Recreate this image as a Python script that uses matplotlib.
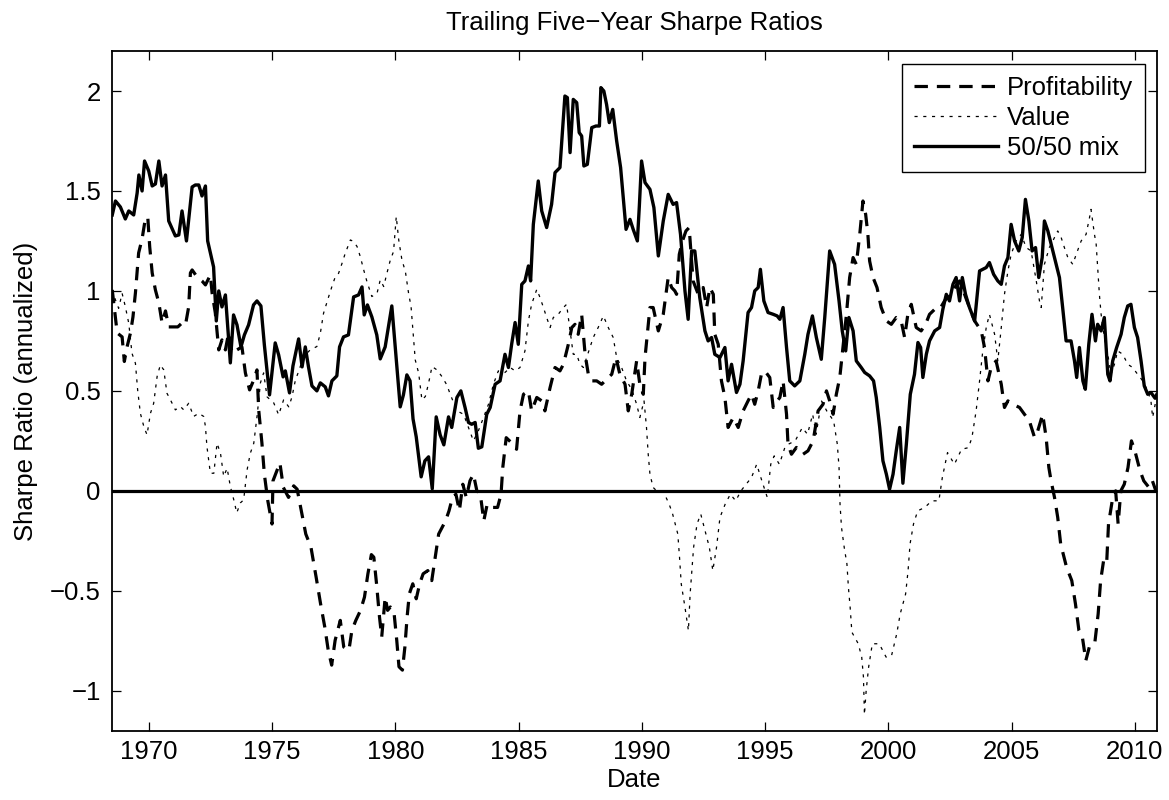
import matplotlib
matplotlib.use("Agg")
import matplotlib.pyplot as plt

# ---------- data (decimal years, annualized Sharpe ratios) ----------
prof_dates = [
    1968.52, 1968.72, 1968.92, 1969.01, 1969.12, 1969.26, 1969.36, 1969.46, 1969.59, 1969.73,
    1969.86, 1969.96, 1970.04, 1970.14, 1970.27, 1970.41, 1970.54, 1970.68, 1970.81, 1971.01,
    1971.18, 1971.35, 1971.49, 1971.62, 1971.69, 1971.76, 1971.96, 1972.16, 1972.30, 1972.50,
    1972.57, 1972.70, 1972.84, 1972.97, 1973.11, 1973.24, 1973.38, 1973.58, 1973.78, 1973.92,
    1974.09, 1974.26, 1974.39, 1974.46, 1974.59, 1974.69, 1974.83, 1975.00, 1975.04, 1975.32,
    1975.46, 1975.67, 1975.88, 1976.02, 1976.19, 1976.37, 1976.58, 1976.79, 1976.97, 1977.14,
    1977.28, 1977.42, 1977.56, 1977.77, 1977.91, 1978.12, 1978.24, 1978.40, 1978.59, 1978.75,
    1978.89, 1979.03, 1979.13, 1979.24, 1979.36, 1979.45, 1979.59, 1979.69, 1979.80, 1979.94,
    1980.06, 1980.15, 1980.29, 1980.39, 1980.48, 1980.57, 1980.71, 1980.85, 1980.99, 1981.13,
    1981.32, 1981.48, 1981.62, 1981.76, 1981.90, 1982.04, 1982.18, 1982.32, 1982.46, 1982.60,
    1982.74, 1982.88, 1983.03, 1983.17, 1983.31, 1983.45, 1983.59, 1983.73, 1983.94, 1984.15,
    1984.29, 1984.36, 1984.50, 1984.71, 1984.92, 1985.06, 1985.20, 1985.40, 1985.53, 1985.74,
    1985.94, 1986.07, 1986.28, 1986.48, 1986.68, 1986.82, 1987.02, 1987.16, 1987.29, 1987.42,
    1987.56, 1987.70, 1987.83, 1987.97, 1988.17, 1988.37, 1988.57, 1988.78, 1988.95, 1989.11,
    1989.32, 1989.45, 1989.59, 1989.79, 1989.92, 1990.06, 1990.13, 1990.33, 1990.46, 1990.67,
    1990.87, 1991.07, 1991.21, 1991.34, 1991.41, 1991.52, 1991.65, 1991.79, 1991.92, 1992.08,
    1992.29, 1992.49, 1992.63, 1992.76, 1992.90, 1992.96, 1993.10, 1993.23, 1993.37, 1993.50,
    1993.71, 1993.91, 1994.11, 1994.31, 1994.45, 1994.58, 1994.72, 1994.85, 1994.99, 1995.19,
    1995.33, 1995.39, 1995.60, 1995.73, 1995.87, 1995.93, 1996.07, 1996.27, 1996.54, 1996.74,
    1996.95, 1997.15, 1997.35, 1997.49, 1997.62, 1997.76, 1997.89, 1998.03, 1998.16, 1998.30,
    1998.43, 1998.57, 1998.70, 1998.84, 1998.97, 1999.08, 1999.17, 1999.24, 1999.38, 1999.54,
    1999.71, 1999.92, 2000.12, 2000.32, 2000.52, 2000.66, 2000.79, 2000.93, 2001.13, 2001.33,
    2001.51, 2001.67, 2001.88, 2002.08, 2002.28, 2002.48, 2002.69, 2002.89, 2003.09, 2003.29,
    2003.50, 2003.77, 2003.90, 2004.04, 2004.17, 2004.37, 2004.58, 2004.71, 2004.85, 2005.05,
    2005.32, 2005.52, 2005.72, 2005.93, 2006.06, 2006.26, 2006.40, 2006.51, 2006.60, 2006.74,
    2006.87, 2006.99, 2007.23, 2007.44, 2007.59, 2007.73, 2007.87, 2008.01, 2008.15, 2008.37,
    2008.51, 2008.61, 2008.75, 2008.86, 2008.93, 2009.08, 2009.22, 2009.32, 2009.43, 2009.57,
    2009.72, 2009.86, 2010.00, 2010.21, 2010.36, 2010.57, 2010.71, 2010.85,
]
prof_sharpe = [
    1.005, 0.79, 0.77, 0.647, 0.72, 0.79, 0.87, 0.99, 1.19, 1.26,
    1.36, 1.37, 1.22, 1.09, 1.005, 0.94, 0.84, 0.90, 0.82, 0.82,
    0.82, 0.84, 0.83, 0.92, 1.09, 1.105, 1.07, 1.05, 1.03, 1.08,
    0.99, 0.89, 0.705, 0.755, 0.705, 0.79, 0.69, 0.705, 0.72, 0.59,
    0.505, 0.555, 0.605, 0.405, 0.24, 0.083, -0.05, -0.166, 0.05, 0.14,
    0.017, -0.033, 0.025, 0.008, -0.10, -0.216, -0.282, -0.432, -0.565, -0.681,
    -0.797, -0.872, -0.748, -0.648, -0.781, -0.797, -0.698, -0.648, -0.598, -0.532,
    -0.415, -0.319, -0.332, -0.465, -0.631, -0.731, -0.532, -0.598, -0.581, -0.598,
    -0.748, -0.88, -0.897, -0.781, -0.631, -0.515, -0.465, -0.54, -0.465, -0.415,
    -0.399, -0.449, -0.332, -0.216, -0.183, -0.15, -0.10, -0.033, -0.017, -0.10,
    0.033, -0.033, 0.05, 0.083, 0.0, -0.017, -0.15, -0.066, -0.083, -0.083,
    -0.017, 0.116, 0.266, 0.241, 0.208, 0.40, 0.483, 0.50, 0.40, 0.467,
    0.45, 0.40, 0.517, 0.617, 0.60, 0.633, 0.733, 0.817, 0.833, 0.783,
    0.883, 0.683, 0.583, 0.55, 0.55, 0.533, 0.558, 0.583, 0.667, 0.583,
    0.533, 0.40, 0.483, 0.65, 0.533, 0.483, 0.667, 0.917, 0.917, 0.80,
    0.883, 1.067, 1.017, 1.0, 0.983, 1.183, 1.25, 1.30, 1.317, 1.05,
    0.983, 1.017, 0.917, 1.017, 0.983, 0.783, 0.733, 0.55, 0.467, 0.317,
    0.367, 0.317, 0.40, 0.45, 0.483, 0.433, 0.50, 0.583, 0.60, 0.567,
    0.417, 0.433, 0.467, 0.55, 0.383, 0.233, 0.183, 0.217, 0.183, 0.20,
    0.25, 0.40, 0.433, 0.50, 0.45, 0.383, 0.483, 0.567, 0.717, 0.883,
    1.067, 1.167, 1.133, 1.283, 1.45, 1.383, 1.283, 1.15, 1.067, 1.017,
    0.917, 0.85, 0.833, 0.867, 0.85, 0.767, 0.883, 0.933, 0.817, 0.80,
    0.833, 0.883, 0.908, 0.908, 0.95, 0.983, 1.017, 1.05, 0.983, 0.917,
    0.85, 0.80, 0.717, 0.55, 0.617, 0.65, 0.533, 0.417, 0.45, 0.433,
    0.417, 0.383, 0.35, 0.267, 0.30, 0.383, 0.267, 0.117, 0.05, -0.033,
    -0.133, -0.266, -0.383, -0.449, -0.566, -0.699, -0.732, -0.849, -0.782, -0.765,
    -0.616, -0.449, -0.333, -0.349, -0.166, -0.05, 0.0, -0.166, 0.0, 0.033,
    0.116, 0.25, 0.20, 0.10, 0.05, 0.017, 0.05, 0.0,
]

value_dates = [
    1968.51, 1968.65, 1968.78, 1968.92, 1969.05, 1969.19, 1969.32, 1969.46, 1969.55, 1969.66,
    1969.80, 1969.93, 1970.07, 1970.20, 1970.34, 1970.47, 1970.61, 1970.74, 1970.88, 1971.08,
    1971.28, 1971.42, 1971.62, 1971.82, 1972.03, 1972.23, 1972.30, 1972.36, 1972.50, 1972.64,
    1972.77, 1972.91, 1973.04, 1973.18, 1973.31, 1973.45, 1973.57, 1973.72, 1973.85, 1973.99,
    1974.12, 1974.26, 1974.40, 1974.53, 1974.66, 1974.80, 1975.07, 1975.27, 1975.47, 1975.68,
    1975.81, 1975.95, 1976.08, 1976.28, 1976.55, 1976.82, 1976.96, 1977.09, 1977.30, 1977.43,
    1977.57, 1977.70, 1977.84, 1977.97, 1978.18, 1978.31, 1978.45, 1978.58, 1978.72, 1978.85,
    1979.05, 1979.26, 1979.39, 1979.53, 1979.66, 1979.80, 1979.93, 1980.04, 1980.14, 1980.27,
    1980.41, 1980.54, 1980.64, 1980.72, 1980.81, 1980.95, 1981.08, 1981.22, 1981.35, 1981.49,
    1981.69, 1981.89, 1982.09, 1982.23, 1982.50, 1982.77, 1982.97, 1983.17, 1983.37, 1983.58,
    1983.78, 1983.98, 1984.18, 1984.45, 1984.66, 1984.86, 1985.06, 1985.26, 1985.40, 1985.53,
    1985.74, 1985.87, 1986.01, 1986.14, 1986.28, 1986.41, 1986.61, 1986.82, 1986.95, 1987.09,
    1987.22, 1987.36, 1987.49, 1987.63, 1987.83, 1988.03, 1988.23, 1988.44, 1988.64, 1988.84,
    1988.98, 1989.18, 1989.38, 1989.59, 1989.79, 1989.92, 1990.09, 1990.19, 1990.26, 1990.33,
    1990.46, 1990.60, 1990.89, 1991.11, 1991.25, 1991.46, 1991.53, 1991.60, 1991.75, 1991.89,
    1991.96, 1992.03, 1992.10, 1992.24, 1992.39, 1992.60, 1992.74, 1992.88, 1993.03, 1993.17,
    1993.38, 1993.59, 1993.81, 1994.02, 1994.23, 1994.45, 1994.66, 1994.87, 1995.09, 1995.23,
    1995.37, 1995.58, 1995.80, 1995.94, 1996.22, 1996.51, 1996.72, 1996.93, 1997.07, 1997.29,
    1997.50, 1997.78, 1997.93, 1998.00, 1998.04, 1998.10, 1998.21, 1998.32, 1998.38, 1998.45,
    1998.52, 1998.78, 1998.92, 1998.99, 1999.03, 1999.10, 1999.20, 1999.35, 1999.63, 1999.91,
    2000.13, 2000.34, 2000.48, 2000.70, 2000.80, 2000.88, 2001.02, 2001.19, 2001.48, 2001.76,
    2002.05, 2002.19, 2002.40, 2002.68, 2002.97, 2003.25, 2003.39, 2003.56, 2003.70, 2003.83,
    2003.97, 2004.10, 2004.31, 2004.44, 2004.58, 2004.71, 2004.85, 2004.98, 2005.18, 2005.39,
    2005.59, 2005.79, 2006.00, 2006.13, 2006.20, 2006.33, 2006.53, 2006.67, 2006.87, 2007.01,
    2007.14, 2007.28, 2007.48, 2007.62, 2007.82, 2008.02, 2008.16, 2008.22, 2008.36, 2008.43,
    2008.49, 2008.56, 2008.63, 2008.76, 2008.90, 2009.03, 2009.17, 2009.30, 2009.51, 2009.71,
    2009.91, 2010.11, 2010.32, 2010.52, 2010.65, 2010.72, 2010.85,
]
value_sharpe = [
    1.005, 0.955, 0.913, 0.988, 0.922, 0.838, 0.688, 0.638, 0.505, 0.388,
    0.322, 0.28, 0.388, 0.438, 0.572, 0.63, 0.605, 0.488, 0.455, 0.405,
    0.422, 0.405, 0.438, 0.372, 0.388, 0.372, 0.322, 0.222, 0.088, 0.088,
    0.238, 0.188, 0.072, 0.113, 0.022, -0.045, -0.11, -0.06, -0.045, 0.105,
    0.188, 0.238, 0.38, 0.54, 0.59, 0.47, 0.44, 0.38, 0.455, 0.42,
    0.47, 0.555, 0.597, 0.672, 0.705, 0.722, 0.788, 0.888, 0.972, 1.022,
    1.072, 1.088, 1.138, 1.188, 1.255, 1.247, 1.222, 1.172, 1.105, 1.047,
    0.972, 0.988, 1.055, 1.022, 1.088, 1.155, 1.197, 1.372, 1.255, 1.155,
    1.097, 0.988, 0.922, 0.797, 0.655, 0.588, 0.455, 0.472, 0.538, 0.622,
    0.605, 0.572, 0.53, 0.483, 0.40, 0.383, 0.317, 0.25, 0.30, 0.367,
    0.433, 0.533, 0.60, 0.592, 0.617, 0.60, 0.617, 0.70, 0.85, 0.933,
    1.008, 0.967, 0.917, 0.867, 0.817, 0.867, 0.883, 0.917, 0.933, 0.80,
    0.683, 0.683, 0.633, 0.617, 0.692, 0.767, 0.817, 0.875, 0.817, 0.767,
    0.667, 0.617, 0.55, 0.508, 0.433, 0.367, 0.45, 0.317, 0.183, 0.083,
    0.017, 0.0, -0.008, -0.067, -0.116, -0.216, -0.333, -0.466, -0.582, -0.699,
    -0.516, -0.399, -0.283, -0.166, -0.116, -0.216, -0.283, -0.399, -0.283, -0.133,
    -0.067, -0.017, -0.05, 0.0, 0.033, 0.067, 0.133, 0.05, -0.033, 0.133,
    0.175, 0.133, 0.216, 0.233, 0.25, 0.316, 0.283, 0.383, 0.283, 0.449,
    0.40, 0.35, 0.233, 0.116, -0.067, -0.183, -0.283, -0.366, -0.483, -0.582,
    -0.707, -0.765, -0.832, -0.932, -1.12, -1.0, -0.882, -0.765, -0.765, -0.832,
    -0.824, -0.715, -0.616, -0.516, -0.399, -0.266, -0.166, -0.10, -0.083, -0.05,
    -0.05, 0.067, 0.191, 0.133, 0.208, 0.216, 0.266, 0.40, 0.55, 0.70,
    0.817, 0.883, 0.783, 0.65, 0.817, 0.983, 1.10, 1.183, 1.25, 1.283,
    1.217, 1.20, 1.05, 0.95, 0.917, 1.133, 1.217, 1.25, 1.30, 1.267,
    1.217, 1.167, 1.133, 1.183, 1.25, 1.283, 1.367, 1.408, 1.283, 1.233,
    1.117, 0.983, 0.883, 0.767, 0.683, 0.583, 0.633, 0.70, 0.683, 0.633,
    0.617, 0.583, 0.55, 0.50, 0.45, 0.367, 0.45,
]

mix_dates = [
    1968.52, 1968.65, 1968.85, 1969.05, 1969.19, 1969.39, 1969.53, 1969.60, 1969.73, 1969.83,
    1970.00, 1970.14, 1970.27, 1970.41, 1970.54, 1970.68, 1970.81, 1971.08, 1971.22, 1971.35,
    1971.53, 1971.76, 1971.89, 1972.03, 1972.16, 1972.30, 1972.39, 1972.63, 1972.74, 1972.84,
    1972.97, 1973.11, 1973.31, 1973.44, 1973.58, 1973.74, 1973.88, 1974.05, 1974.25, 1974.39,
    1974.55, 1974.69, 1974.90, 1975.13, 1975.27, 1975.45, 1975.54, 1975.71, 1975.85, 1976.08,
    1976.22, 1976.35, 1976.48, 1976.62, 1976.82, 1976.96, 1977.16, 1977.29, 1977.43, 1977.63,
    1977.74, 1977.90, 1978.10, 1978.31, 1978.51, 1978.65, 1978.74, 1978.87, 1979.05, 1979.25,
    1979.39, 1979.59, 1979.72, 1979.86, 1979.99, 1980.20, 1980.33, 1980.47, 1980.60, 1980.72,
    1980.85, 1981.05, 1981.20, 1981.35, 1981.50, 1981.66, 1981.82, 1981.97, 1982.16, 1982.29,
    1982.50, 1982.66, 1982.83, 1982.97, 1983.10, 1983.24, 1983.37, 1983.51, 1983.71, 1983.85,
    1984.05, 1984.25, 1984.45, 1984.59, 1984.72, 1984.86, 1984.99, 1985.13, 1985.26, 1985.40,
    1985.49, 1985.60, 1985.80, 1985.94, 1986.14, 1986.34, 1986.48, 1986.68, 1986.88, 1986.98,
    1987.09, 1987.22, 1987.36, 1987.46, 1987.56, 1987.65, 1987.79, 1987.97, 1988.14, 1988.28,
    1988.34, 1988.46, 1988.57, 1988.68, 1988.82, 1988.98, 1989.14, 1989.36, 1989.52, 1989.65,
    1989.82, 1989.90, 1989.99, 1990.13, 1990.33, 1990.49, 1990.67, 1990.87, 1991.07, 1991.27,
    1991.41, 1991.57, 1991.75, 1991.88, 1992.02, 1992.15, 1992.35, 1992.56, 1992.69, 1992.83,
    1992.96, 1993.17, 1993.37, 1993.50, 1993.64, 1993.84, 1993.98, 1994.11, 1994.31, 1994.45,
    1994.58, 1994.72, 1994.81, 1994.95, 1995.12, 1995.33, 1995.49, 1995.60, 1995.73, 1995.87,
    1996.00, 1996.20, 1996.41, 1996.61, 1996.74, 1996.92, 1997.08, 1997.28, 1997.42, 1997.62,
    1997.82, 1998.00, 1998.13, 1998.27, 1998.40, 1998.57, 1998.70, 1998.90, 1999.04, 1999.24,
    1999.40, 1999.51, 1999.65, 1999.78, 1999.92, 2000.05, 2000.19, 2000.32, 2000.46, 2000.59,
    2000.73, 2000.89, 2001.06, 2001.20, 2001.31, 2001.40, 2001.54, 2001.67, 2001.88, 2002.08,
    2002.21, 2002.35, 2002.48, 2002.62, 2002.75, 2002.89, 2003.00, 2003.13, 2003.29, 2003.50,
    2003.70, 2003.97, 2004.10, 2004.27, 2004.44, 2004.58, 2004.71, 2004.85, 2004.98, 2005.12,
    2005.29, 2005.43, 2005.56, 2005.70, 2005.83, 2005.97, 2006.10, 2006.24, 2006.33, 2006.47,
    2006.67, 2006.80, 2006.94, 2007.07, 2007.21, 2007.41, 2007.55, 2007.64, 2007.75, 2007.89,
    2007.99, 2008.13, 2008.26, 2008.40, 2008.49, 2008.63, 2008.76, 2008.90, 2008.99, 2009.10,
    2009.26, 2009.44, 2009.57, 2009.71, 2009.84, 2009.98, 2010.11, 2010.25, 2010.38, 2010.52,
    2010.65, 2010.82, 2010.88,
]
mix_sharpe = [
    1.38, 1.45, 1.42, 1.36, 1.40, 1.38, 1.49, 1.58, 1.50, 1.65,
    1.60, 1.525, 1.535, 1.65, 1.525, 1.58, 1.35, 1.275, 1.28, 1.40,
    1.25, 1.52, 1.53, 1.53, 1.475, 1.525, 1.25, 1.12, 0.85, 1.00,
    0.92, 0.98, 0.64, 0.88, 0.83, 0.72, 0.78, 0.83, 0.93, 0.95,
    0.925, 0.73, 0.48, 0.74, 0.68, 0.57, 0.60, 0.49, 0.625, 0.76,
    0.62, 0.72, 0.62, 0.525, 0.50, 0.54, 0.52, 0.475, 0.55, 0.575,
    0.72, 0.77, 0.78, 0.97, 0.98, 1.02, 0.88, 0.93, 0.87, 0.78,
    0.66, 0.72, 0.82, 0.925, 0.73, 0.42, 0.48, 0.58, 0.55, 0.36,
    0.27, 0.07, 0.15, 0.17, 0.01, 0.37, 0.28, 0.23, 0.37, 0.317,
    0.467, 0.50, 0.417, 0.342, 0.333, 0.342, 0.213, 0.22, 0.383, 0.417,
    0.533, 0.55, 0.683, 0.617, 0.733, 0.842, 0.733, 1.033, 1.05, 1.125,
    1.05, 1.333, 1.55, 1.40, 1.317, 1.433, 1.592, 1.617, 1.975, 1.967,
    1.692, 1.958, 1.942, 1.792, 1.775, 1.625, 1.633, 1.817, 1.825, 1.825,
    2.017, 2.00, 1.933, 1.842, 1.908, 1.75, 1.617, 1.308, 1.358, 1.308,
    1.25, 1.425, 1.65, 1.542, 1.508, 1.417, 1.175, 1.35, 1.483, 1.433,
    1.442, 1.283, 1.00, 0.858, 1.20, 1.20, 0.967, 0.80, 0.75, 0.767,
    0.683, 0.667, 0.717, 0.55, 0.633, 0.492, 0.533, 0.65, 0.892, 0.917,
    1.00, 1.017, 1.108, 0.95, 0.892, 0.883, 0.875, 0.858, 0.917, 0.717,
    0.55, 0.525, 0.55, 0.683, 0.783, 0.875, 0.767, 0.658, 0.867, 1.20,
    1.133, 0.95, 0.80, 0.70, 0.867, 0.80, 0.65, 0.617, 0.592, 0.575,
    0.55, 0.467, 0.317, 0.15, 0.083, 0.008, 0.083, 0.20, 0.317, 0.038,
    0.233, 0.483, 0.583, 0.742, 0.717, 0.567, 0.683, 0.75, 0.80, 0.817,
    0.908, 0.983, 0.95, 1.033, 1.067, 0.95, 1.067, 0.983, 0.917, 0.85,
    1.10, 1.117, 1.142, 1.083, 1.05, 1.033, 1.125, 1.167, 1.333, 1.25,
    1.20, 1.267, 1.458, 1.35, 1.20, 1.217, 1.067, 1.167, 1.35, 1.30,
    1.20, 1.133, 1.067, 0.917, 0.75, 0.75, 0.65, 0.567, 0.717, 0.55,
    0.508, 0.733, 0.883, 0.75, 0.833, 0.80, 0.867, 0.583, 0.55, 0.65,
    0.717, 0.783, 0.867, 0.925, 0.933, 0.817, 0.767, 0.65, 0.525, 0.483,
    0.492, 0.463, 0.48,
]

year_ticks = [1970, 1975, 1980, 1985, 1990, 1995, 2000, 2005, 2010]
sharpe_ticks = [-1, -0.5, 0, 0.5, 1, 1.5, 2]
sharpe_tick_labels = ["\u22121", "\u22120.5", "0", "0.5", "1", "1.5", "2"]

# ---------- style ----------
plt.rcParams.update({
    "font.family": ["Liberation Sans", "DejaVu Sans"],
    "font.size": 18.5,
})

fig = plt.figure(figsize=(11.69, 8.0), dpi=100)
ax = fig.add_axes([0.0956, 0.0866, 0.8942, 0.8496])

ax.plot(prof_dates, prof_sharpe, color="black", lw=2.3,
        linestyle=(0, (4.2, 2.8)), label="Profitability")
ax.plot(value_dates, value_sharpe, color="black", lw=0.9,
        linestyle=(0, (2.5, 4.5)), label="Value")
ax.plot(mix_dates, mix_sharpe, color="black", lw=2.4, label="50/50 mix")
ax.axhline(0, color="black", lw=2.3)

ax.set_xlim(1968.5, 2010.9)
ax.set_ylim(-1.2, 2.2)
ax.set_xticks(year_ticks)
ax.set_yticks(sharpe_ticks)
ax.set_yticklabels(sharpe_tick_labels)
ax.tick_params(direction="in", length=6.5, width=0.9, top=True, right=True)
ax.tick_params(axis="x", pad=7)
ax.tick_params(axis="y", pad=8)
for sp in ax.spines.values():
    sp.set_linewidth(1.3)

ax.set_xlabel("Date", labelpad=2.5)
ax.set_ylabel("Sharpe Ratio (annualized)", labelpad=8.5)
ax.set_title("Trailing Five\u2212Year Sharpe Ratios", pad=15.5, fontsize=18.5)

leg = ax.legend(loc="upper right", bbox_to_anchor=(1145 / 1169, 1 - 64 / 800),
                bbox_transform=fig.transFigure, borderaxespad=0,
                fancybox=False, framealpha=1, edgecolor="black",
                handlelength=3.3, handletextpad=0.35, labelspacing=0.25,
                borderpad=0.45)
leg.get_frame().set_linewidth(1.0)

fig.savefig("out.png", dpi=100)
